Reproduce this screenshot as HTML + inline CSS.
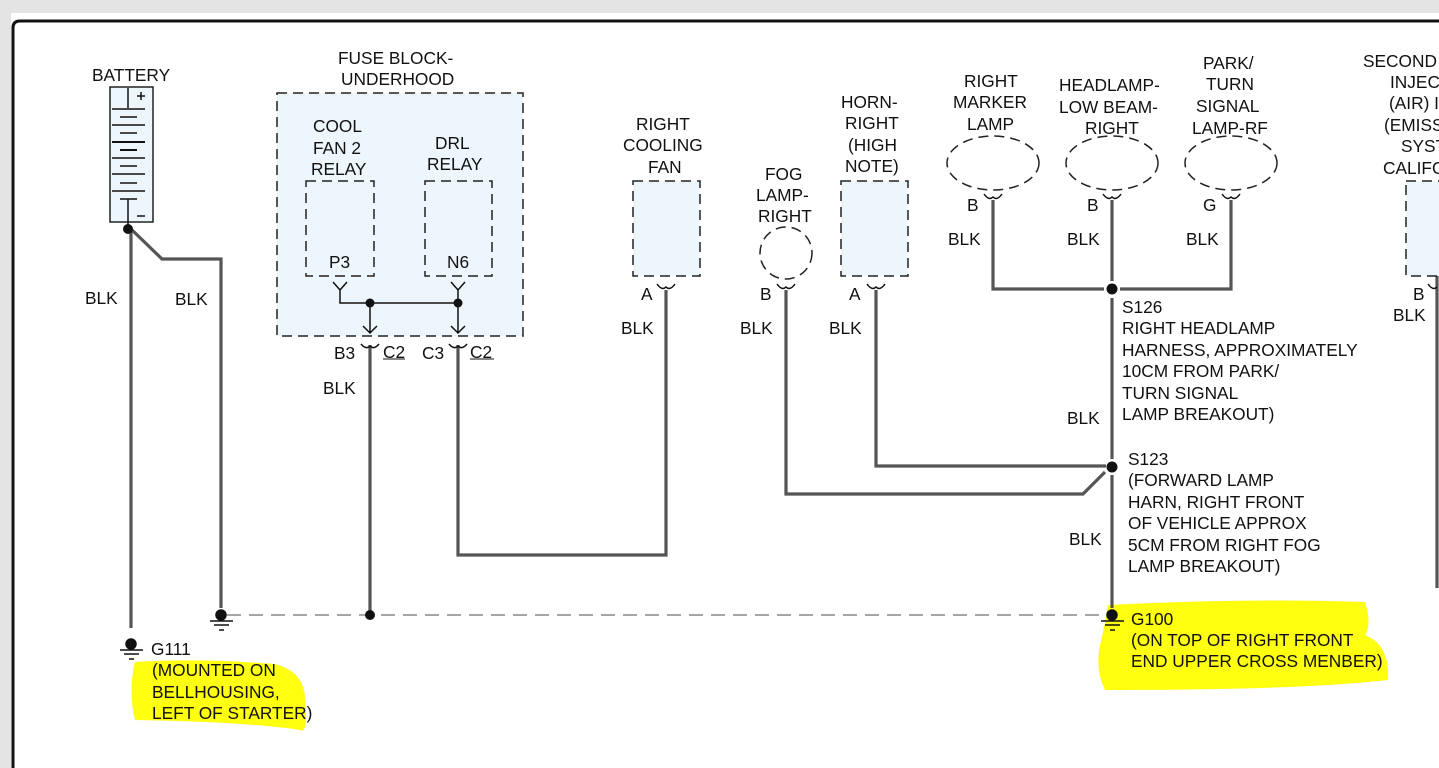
<!DOCTYPE html>
<html><head><meta charset="utf-8"><style>
html,body{margin:0;padding:0;background:#fff;width:1439px;height:768px;overflow:hidden}
svg{display:block}
text{font-family:"Liberation Sans",Arial,sans-serif;font-size:17.3px;fill:#111}
</style></head><body>
<svg width="1439" height="768" viewBox="0 0 1439 768">
<rect x="0" y="0" width="1439" height="13" fill="#e4e4e4"/>
<rect x="0" y="0" width="11" height="768" fill="#e4e4e4"/>
<rect x="11" y="13" width="1428" height="755" fill="#fff"/>
<path d="M13,768 V28 Q13,21 20,21 H1439" fill="none" stroke="#111" stroke-width="3"/>

<path d="M135,662 Q200,658 275,664 Q305,672 305,700 Q308,735 300,730 Q250,722 135,720 Q128,690 135,662Z" fill="#ffff10"/>
<path d="M1108,605 Q1250,598 1365,602 Q1372,625 1365,635 Q1390,645 1388,680 Q1300,690 1105,690 Q1095,670 1100,645 Q1105,625 1108,605Z" fill="#ffff10"/>

<g fill="none" stroke="#555" stroke-width="3.2">
<path d="M131,229 V628"/>
<path d="M131,229 L162,259 H221 V608"/>
<path d="M370,345 V612"/>
<path d="M458,345 V555 H666 V290"/>
<path d="M786,290 V494 H1083 L1105,472"/>
<path d="M876,290 V466 H1106"/>
<path d="M993,200 V289 H1104 M1120,289 H1231 V200"/>
<path d="M1112,200 V281 M1112,298 V459 M1112,475 V608"/>
<path d="M1437,200 V588"/>
</g>
<path d="M227,615 H1106" stroke="#888" stroke-width="1.6" stroke-dasharray="14,8" fill="none"/>

<rect x="110" y="87" width="43" height="135" fill="#ecf6fc" stroke="#222" stroke-width="1.5"/>
<g stroke="#111" stroke-width="1.5">
<line x1="128" y1="88" x2="128" y2="108"/><line x1="112" y1="109" x2="145" y2="109"/>
<line x1="120" y1="117" x2="137" y2="117"/><line x1="112" y1="125" x2="145" y2="125"/>
<line x1="120" y1="133" x2="137" y2="133"/><line x1="112" y1="142" x2="145" y2="142" stroke-width="2"/>
<line x1="120" y1="150" x2="137" y2="150" stroke-width="2"/><line x1="112" y1="158" x2="145" y2="158"/>
<line x1="120" y1="166" x2="137" y2="166"/><line x1="112" y1="174" x2="145" y2="174"/>
<line x1="120" y1="183" x2="137" y2="183"/><line x1="112" y1="191" x2="145" y2="191"/>
<line x1="120" y1="199" x2="137" y2="199"/><line x1="128" y1="199" x2="128" y2="229"/>
<line x1="137" y1="96" x2="145" y2="96"/><line x1="141" y1="92" x2="141" y2="100"/>
<line x1="137" y1="216" x2="145" y2="216"/>
</g>
<circle cx="128" cy="229" r="5" fill="#111"/>

<rect x="277" y="93" width="246" height="243" fill="#ecf6fc" stroke="#222" stroke-width="1.5" stroke-dasharray="10,6"/>
<rect x="306" y="181" width="68" height="95" fill="#ecf6fc" stroke="#222" stroke-width="1.5" stroke-dasharray="10,6"/>
<rect x="425" y="181" width="67" height="95" fill="#ecf6fc" stroke="#222" stroke-width="1.5" stroke-dasharray="10,6"/>
<g stroke="#111" stroke-width="1.5" fill="none">
<path d="M333,282 L340,290 L347,282 M340,290 V303 H458 M451,282 L458,290 L465,282 M458,290 V332 M370,303 V332 M363,326 L370,333 L377,326 M451,326 L458,333 L465,326"/>
<path d="M361,344 Q366,350 370,346 Q374,350 379,344 M449,344 Q454,350 458,346 Q462,350 467,344"/>
<path d="M383,359 H405 M470,359 H494" stroke-width="1"/>
</g>
<circle cx="370" cy="303" r="4.5" fill="#111"/><circle cx="458" cy="303" r="4.5" fill="#111"/>

<g fill="#ecf6fc" stroke="#222" stroke-width="1.5" stroke-dasharray="10,6">
<rect x="633" y="181" width="67" height="95"/>
<rect x="841" y="181" width="67" height="95"/>
<rect x="1406" y="181" width="40" height="95"/>
<circle cx="786" cy="253" r="26" fill="#fff"/>
<ellipse cx="993" cy="163" rx="46" ry="27" fill="#fff"/>
<ellipse cx="1112" cy="163" rx="46" ry="27" fill="#fff"/>
<ellipse cx="1231" cy="163" rx="46" ry="27" fill="#fff"/>
</g>
<g stroke="#111" stroke-width="1.5" fill="none">
<path d="M657,284 Q662,291 666,287 Q670,291 675,284"/>
<path d="M777,284 Q782,291 786,287 Q790,291 795,284"/>
<path d="M867,284 Q872,291 876,287 Q880,291 885,284"/>
<path d="M984,194 Q989,201 993,197 Q997,201 1002,194"/>
<path d="M1103,194 Q1108,201 1112,197 Q1116,201 1121,194"/>
<path d="M1222,194 Q1227,201 1231,197 Q1235,201 1240,194"/>
<path d="M1428,284 Q1433,291 1437,287"/>
</g>
<circle cx="1112" cy="289" r="5.5" fill="#111"/>
<circle cx="1112" cy="467" r="5.5" fill="#111"/>
<circle cx="370" cy="615" r="5" fill="#111"/>

<g stroke="#111" stroke-width="1.5">
<circle cx="221" cy="615" r="5" fill="#111"/><line x1="210" y1="621" x2="233" y2="621"/><line x1="214" y1="625" x2="229" y2="625"/><line x1="219" y1="630" x2="224" y2="630"/>
<circle cx="131" cy="644" r="5" fill="#111"/><line x1="120" y1="650" x2="143" y2="650"/><line x1="124" y1="654" x2="139" y2="654"/><line x1="129" y1="659" x2="134" y2="659"/>
<circle cx="1112" cy="615" r="5" fill="#111"/><line x1="1101" y1="621" x2="1124" y2="621"/><line x1="1105" y1="625" x2="1120" y2="625"/><line x1="1110" y1="630" x2="1115" y2="630"/>
</g>

<text x="92" y="81">BATTERY</text>
<text x="85" y="304">BLK</text><text x="175" y="305">BLK</text>
<text x="338" y="64">FUSE BLOCK-</text><text x="341" y="85">UNDERHOOD</text>
<text x="313" y="132">COOL</text><text x="313" y="154">FAN 2</text><text x="311" y="175">RELAY</text>
<text x="435" y="149">DRL</text><text x="427" y="170">RELAY</text>
<text x="329" y="268">P3</text><text x="447" y="268">N6</text>
<text x="334" y="359">B3</text><text x="383" y="358">C2</text>
<text x="422" y="359">C3</text><text x="470" y="358">C2</text>
<text x="323" y="394">BLK</text>
<text x="636" y="130">RIGHT</text><text x="623" y="151">COOLING</text><text x="648" y="173">FAN</text>
<text x="641" y="300">A</text><text x="621" y="334">BLK</text>
<text x="765" y="180">FOG</text><text x="756" y="201">LAMP-</text><text x="758" y="222">RIGHT</text>
<text x="760" y="300">B</text><text x="740" y="334">BLK</text>
<text x="841" y="108">HORN-</text><text x="845" y="129">RIGHT</text><text x="848" y="151">(HIGH</text><text x="845" y="172">NOTE)</text>
<text x="849" y="300">A</text><text x="829" y="334">BLK</text>
<text x="964" y="87">RIGHT</text><text x="953" y="108">MARKER</text><text x="967" y="130">LAMP</text>
<text x="1059" y="91">HEADLAMP-</text><text x="1059" y="113">LOW BEAM-</text><text x="1085" y="134">RIGHT</text>
<text x="1203" y="69">PARK/</text><text x="1206" y="90">TURN</text><text x="1196" y="112">SIGNAL</text><text x="1192" y="134">LAMP-RF</text>
<text x="967" y="211">B</text><text x="1087" y="211">B</text><text x="1203" y="211">G</text>
<text x="948" y="245">BLK</text><text x="1067" y="245">BLK</text><text x="1186" y="245">BLK</text>
<text x="1363" y="67">SECOND</text><text x="1390" y="88">INJEC</text><text x="1389" y="109">(AIR) I</text><text x="1384" y="131">(EMISS</text><text x="1401" y="152">SYST</text><text x="1383" y="174">CALIFO</text>
<text x="1413" y="300">B</text><text x="1393" y="321">BLK</text>
<text x="1122" y="313">S126</text><text x="1122" y="334">RIGHT HEADLAMP</text><text x="1122" y="356">HARNESS, APPROXIMATELY</text><text x="1122" y="377">10CM FROM PARK/</text><text x="1122" y="399">TURN SIGNAL</text><text x="1122" y="420">LAMP BREAKOUT)</text>
<text x="1067" y="424">BLK</text>
<text x="1128" y="465">S123</text><text x="1128" y="486">(FORWARD LAMP</text><text x="1128" y="508">HARN, RIGHT FRONT</text><text x="1128" y="529">OF VEHICLE APPROX</text><text x="1128" y="551">5CM FROM RIGHT FOG</text><text x="1128" y="572">LAMP BREAKOUT)</text>
<text x="1069" y="545">BLK</text>
<text x="1131" y="625">G100</text><text x="1131" y="646">(ON TOP OF RIGHT FRONT</text><text x="1131" y="667">END UPPER CROSS MENBER)</text>
<text x="151" y="655">G111</text><text x="152" y="676">(MOUNTED ON</text><text x="152" y="698">BELLHOUSING,</text><text x="152" y="719">LEFT OF STARTER)</text>
</svg>
</body></html>
